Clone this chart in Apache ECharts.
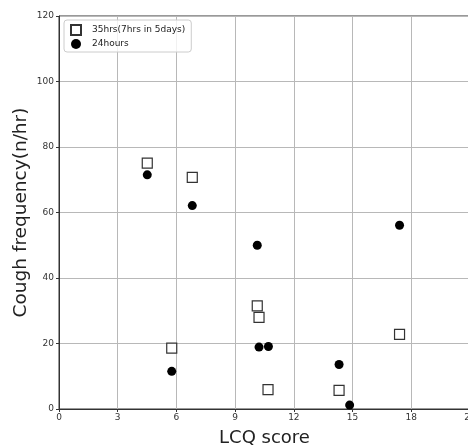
<!DOCTYPE html>
<html><head><meta charset="utf-8">
<script src="https://cdn.jsdelivr.net/npm/echarts@6/dist/echarts.min.js"></script>
<style>html,body{margin:0;padding:0;background:#fff}#c{width:468px;height:445px}</style>
</head><body><div id="c"></div>
<script>
const seriesNames = ['35hrs(7hrs in 5days)', '24hours'];
const lcq35 = [4.51, 6.81, 5.76, 10.13, 10.22, 10.68, 14.31, 17.4];
const freq35 = [75.1, 70.7, 18.6, 31.5, 28.0, 5.9, 5.7, 22.8];
const lcq24 = [4.51, 6.81, 5.76, 10.13, 10.22, 10.7, 14.31, 14.85, 17.4];
const freq24 = [71.5, 62.1, 11.5, 50.0, 18.9, 19.1, 13.6, 1.2, 56.1];
const xTicks = [0, 3, 6, 9, 12, 15, 18, 21];
const yTicks = [0, 20, 40, 60, 80, 100, 120];

const chart = echarts.init(document.getElementById('c'));
const font = 'DejaVu Sans';
chart.setOption({
  animation: false,
  backgroundColor: '#fff',
  grid: {left: 59, top: 16, width: 411, height: 393, show: true, borderColor: '#333', borderWidth: 1,
         outerBoundsMode: 'none', containLabel: false},
  legend: {
    left: 64, top: 20, orient: 'vertical', itemGap: 3, itemWidth: 10, itemHeight: 10,
    padding: [4, 6, 3, 6], borderColor: '#ccc', borderWidth: 1, borderRadius: 3,
    backgroundColor: 'rgba(255,255,255,0.8)',
    textStyle: {fontFamily: font, fontSize: 9, color: '#222', padding: [0, 0, 0, 6]},
    data: [{name: seriesNames[0], icon: 'rect'}, {name: seriesNames[1], icon: 'circle'}]
  },
  xAxis: {
    type: 'value', min: xTicks[0], max: xTicks[xTicks.length - 1], interval: 3,
    name: 'LCQ score', nameLocation: 'middle', nameGap: 20, nameMoveOverlap: false,
    nameTextStyle: {fontFamily: font, fontSize: 18, color: '#222'},
    axisLine: {show: true, onZero: false, lineStyle: {color: '#333'}},
    axisTick: {show: true, length: 3, lineStyle: {color: '#333'}},
    axisLabel: {fontFamily: font, fontSize: 9, color: '#333', margin: 4},
    splitLine: {show: true, lineStyle: {color: '#b8b8b8', width: 1}}
  },
  yAxis: {
    type: 'value', min: yTicks[0], max: yTicks[yTicks.length - 1], interval: 20,
    name: 'Cough frequency(n/hr)', nameLocation: 'middle', nameGap: 28, nameRotate: 90, nameMoveOverlap: false,
    nameTextStyle: {fontFamily: font, fontSize: 18.5, color: '#222'},
    axisLine: {show: true, onZero: false, lineStyle: {color: '#333'}},
    axisTick: {show: true, length: 3, lineStyle: {color: '#333'}},
    axisLabel: {fontFamily: font, fontSize: 9, color: '#333', margin: 5},
    splitLine: {show: true, lineStyle: {color: '#b8b8b8', width: 1}}
  },
  series: [
    {
      name: seriesNames[0], type: 'scatter', symbol: 'rect', symbolSize: 10,
      itemStyle: {color: '#fff', borderColor: '#333', borderWidth: 1.2, opacity: 1},
      data: lcq35.map((x, i) => [x, freq35[i]]), z: 2
    },
    {
      name: seriesNames[1], type: 'scatter', symbol: 'circle', symbolSize: 9,
      itemStyle: {color: '#000', opacity: 1},
      data: lcq24.map((x, i) => [x, freq24[i]]), z: 3
    }
  ]
});
</script></body></html>
